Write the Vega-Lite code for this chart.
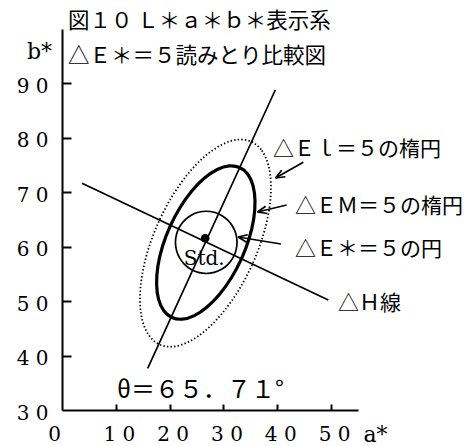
{
  "$schema": "https://vega.github.io/schema/vega-lite/v6.json",
  "width": 296,
  "height": 381,
  "autosize": {"type": "none"},
  "padding": {"left": 62, "top": 29, "right": 109, "bottom": 36},
  "background": "white",
  "config": {
    "view": {"stroke": null},
    "axis": {
      "grid": false,
      "domainColor": "black",
      "domainWidth": 2,
      "tickColor": "black",
      "tickWidth": 2,
      "labelColor": "black",
      "titleColor": "black",
      "labelFont": "DejaVu Serif",
      "labelFontSize": 20,
      "labelFlush": false,
      "labelOverlap": false,
      "titleFont": "DejaVu Serif",
      "titleFontSize": 22,
      "titleFontWeight": "normal"
    }
  },
  "title": {
    "text": ["図１０ Ｌ＊ａ＊ｂ＊表示系", "△Ｅ＊＝５読みとり比較図"],
    "anchor": "start",
    "frame": "group",
    "baseline": "top",
    "font": "Noto Sans CJK JP",
    "fontSize": 21.5,
    "fontWeight": "normal",
    "color": "black",
    "lineHeight": 35,
    "offset": 17,
    "dx": 6,
    "dy": 55
  },
  "datasets": {
    "curves": [
      {"curve": "EL", "k": 0, "a": 35.17, "b": 79.30},
      {"curve": "EL", "k": 1, "a": 37.13, "b": 77.66},
      {"curve": "EL", "k": 2, "a": 38.38, "b": 74.86},
      {"curve": "EL", "k": 3, "a": 38.83, "b": 71.09},
      {"curve": "EL", "k": 4, "a": 38.45, "b": 66.61},
      {"curve": "EL", "k": 5, "a": 37.27, "b": 61.73},
      {"curve": "EL", "k": 6, "a": 35.37, "b": 56.77},
      {"curve": "EL", "k": 7, "a": 32.87, "b": 52.08},
      {"curve": "EL", "k": 8, "a": 29.94, "b": 47.98},
      {"curve": "EL", "k": 9, "a": 26.80, "b": 44.73},
      {"curve": "EL", "k": 10, "a": 23.64, "b": 42.58},
      {"curve": "EL", "k": 11, "a": 20.69, "b": 41.65},
      {"curve": "EL", "k": 12, "a": 18.15, "b": 42.02},
      {"curve": "EL", "k": 13, "a": 16.19, "b": 43.67},
      {"curve": "EL", "k": 14, "a": 14.94, "b": 46.46},
      {"curve": "EL", "k": 15, "a": 14.49, "b": 50.23},
      {"curve": "EL", "k": 16, "a": 14.87, "b": 54.71},
      {"curve": "EL", "k": 17, "a": 16.05, "b": 59.59},
      {"curve": "EL", "k": 18, "a": 17.96, "b": 64.55},
      {"curve": "EL", "k": 19, "a": 20.45, "b": 69.24},
      {"curve": "EL", "k": 20, "a": 23.38, "b": 73.34},
      {"curve": "EL", "k": 21, "a": 26.52, "b": 76.59},
      {"curve": "EL", "k": 22, "a": 29.68, "b": 78.74},
      {"curve": "EL", "k": 23, "a": 32.63, "b": 79.67},
      {"curve": "EM", "k": 0, "a": 33.01, "b": 74.55},
      {"curve": "EM", "k": 1, "a": 34.52, "b": 73.31},
      {"curve": "EM", "k": 2, "a": 35.49, "b": 71.22},
      {"curve": "EM", "k": 3, "a": 35.86, "b": 68.42},
      {"curve": "EM", "k": 4, "a": 35.62, "b": 65.09},
      {"curve": "EM", "k": 5, "a": 34.76, "b": 61.47},
      {"curve": "EM", "k": 6, "a": 33.36, "b": 57.81},
      {"curve": "EM", "k": 7, "a": 31.50, "b": 54.34},
      {"curve": "EM", "k": 8, "a": 29.32, "b": 51.31},
      {"curve": "EM", "k": 9, "a": 26.96, "b": 48.93},
      {"curve": "EM", "k": 10, "a": 24.59, "b": 47.35},
      {"curve": "EM", "k": 11, "a": 22.36, "b": 46.69},
      {"curve": "EM", "k": 12, "a": 20.43, "b": 46.99},
      {"curve": "EM", "k": 13, "a": 18.92, "b": 48.23},
      {"curve": "EM", "k": 14, "a": 17.95, "b": 50.32},
      {"curve": "EM", "k": 15, "a": 17.58, "b": 53.12},
      {"curve": "EM", "k": 16, "a": 17.82, "b": 56.45},
      {"curve": "EM", "k": 17, "a": 18.68, "b": 60.07},
      {"curve": "EM", "k": 18, "a": 20.08, "b": 63.73},
      {"curve": "EM", "k": 19, "a": 21.94, "b": 67.20},
      {"curve": "EM", "k": 20, "a": 24.12, "b": 70.23},
      {"curve": "EM", "k": 21, "a": 26.48, "b": 72.61},
      {"curve": "EM", "k": 22, "a": 28.85, "b": 74.19},
      {"curve": "EM", "k": 23, "a": 31.08, "b": 74.85},
      {"curve": "Estar", "k": 0, "a": 32.52, "b": 60.80},
      {"curve": "Estar", "k": 1, "a": 32.33, "b": 62.28},
      {"curve": "Estar", "k": 2, "a": 31.75, "b": 63.66},
      {"curve": "Estar", "k": 3, "a": 30.85, "b": 64.85},
      {"curve": "Estar", "k": 4, "a": 29.66, "b": 65.75},
      {"curve": "Estar", "k": 5, "a": 28.28, "b": 66.33},
      {"curve": "Estar", "k": 6, "a": 26.80, "b": 66.52},
      {"curve": "Estar", "k": 7, "a": 25.32, "b": 66.33},
      {"curve": "Estar", "k": 8, "a": 23.94, "b": 65.75},
      {"curve": "Estar", "k": 9, "a": 22.76, "b": 64.85},
      {"curve": "Estar", "k": 10, "a": 21.85, "b": 63.66},
      {"curve": "Estar", "k": 11, "a": 21.28, "b": 62.28},
      {"curve": "Estar", "k": 12, "a": 21.08, "b": 60.80},
      {"curve": "Estar", "k": 13, "a": 21.28, "b": 59.32},
      {"curve": "Estar", "k": 14, "a": 21.85, "b": 57.94},
      {"curve": "Estar", "k": 15, "a": 22.76, "b": 56.76},
      {"curve": "Estar", "k": 16, "a": 23.94, "b": 55.85},
      {"curve": "Estar", "k": 17, "a": 25.32, "b": 55.28},
      {"curve": "Estar", "k": 18, "a": 26.80, "b": 55.08},
      {"curve": "Estar", "k": 19, "a": 28.28, "b": 55.28},
      {"curve": "Estar", "k": 20, "a": 29.66, "b": 55.85},
      {"curve": "Estar", "k": 21, "a": 30.85, "b": 56.76},
      {"curve": "Estar", "k": 22, "a": 31.75, "b": 57.94},
      {"curve": "Estar", "k": 23, "a": 32.33, "b": 59.32}
    ],
    "segments": [
      {"part": "theta axis", "a": 15.92, "b": 37.66, "a2": 39.63, "b2": 88.79},
      {"part": "dH line", "a": 3.72, "b": 71.65, "a2": 49.48, "b2": 50.21},
      {"part": "EL arrow", "a": 44.83, "b": 75.51, "a2": 39.67, "b2": 72.62},
      {"part": "EL arrow", "a": 39.67, "b": 72.62, "a2": 41.51, "b2": 72.86},
      {"part": "EL arrow", "a": 39.67, "b": 72.62, "a2": 40.82, "b2": 74.06},
      {"part": "EM arrow", "a": 41.75, "b": 67.66, "a2": 36.32, "b2": 66.38},
      {"part": "EM arrow", "a": 36.32, "b": 66.38, "a2": 38.16, "b2": 66.10},
      {"part": "EM arrow", "a": 36.32, "b": 66.38, "a2": 37.83, "b2": 67.44},
      {"part": "E* arrow", "a": 40.69, "b": 60.50, "a2": 32.70, "b2": 61.78},
      {"part": "E* arrow", "a": 32.70, "b": 61.78, "a2": 34.30, "b2": 60.83},
      {"part": "E* arrow", "a": 32.70, "b": 61.78, "a2": 34.52, "b2": 62.19}
    ],
    "notes": [
      {"a": 39.2, "b": 77.77, "text": "△Ｅｌ＝５の楕円"},
      {"a": 43.29, "b": 67.3, "text": "△ＥＭ＝５の楕円"},
      {"a": 43.29, "b": 59.4, "text": "△Ｅ＊＝５の円"},
      {"a": 51.28, "b": 49.47, "text": "△Ｈ線"}
    ],
    "angle_note": [
      {"a": 10.2, "b": 33.5, "text": "θ＝６５．７１°"}
    ],
    "std_point": [
      {"a": 26.6, "b": 61.55, "text": "Std."}
    ]
  },
  "layer": [
    {
      "encoding": {
        "x": {
          "field": "a",
          "type": "quantitative",
          "scale": {"domain": [0, 55], "nice": false, "zero": false},
          "axis": {
            "values": [0, 10, 20, 30, 40, 50],
            "labelExpr": "datum.value == 0 ? '0' : format(datum.value / 10, 'd') + ' 0'",
            "ticks": false,
            "labelPadding": 14,
            "labelOffset": {"condition": {"test": "datum.value == 0", "value": -8}, "value": 3},
            "title": "a*",
            "titleX": 313,
            "titleY": 24,
            "titleAlign": "center",
            "titleBaseline": "middle"
          }
        },
        "y": {
          "field": "b",
          "type": "quantitative",
          "scale": {"domain": [30, 100], "nice": false, "zero": false},
          "axis": {
            "values": [30, 40, 50, 60, 70, 80, 90],
            "labelExpr": "format(datum.value / 10, 'd') + ' 0'",
            "ticks": false,
            "labelPadding": 14,
            "labelOffset": 3,
            "title": "b*",
            "titleAngle": 0,
            "titleX": -23,
            "titleY": 22,
            "titleAlign": "center",
            "titleBaseline": "middle"
          }
        }
      },
      "layer": [
        {
          "data": {"name": "curves"},
          "transform": [{"filter": "datum.curve == 'EL'"}],
          "mark": {"type": "line", "interpolate": "cardinal-closed", "color": "black", "strokeWidth": 1.8, "strokeDash": [1.4, 2.2]},
          "encoding": {"order": {"field": "k", "type": "quantitative"}}
        },
        {
          "data": {"name": "curves"},
          "transform": [{"filter": "datum.curve == 'EM'"}],
          "mark": {"type": "line", "interpolate": "cardinal-closed", "color": "black", "strokeWidth": 3.2},
          "encoding": {"order": {"field": "k", "type": "quantitative"}}
        },
        {
          "data": {"name": "curves"},
          "transform": [{"filter": "datum.curve == 'Estar'"}],
          "mark": {"type": "line", "interpolate": "cardinal-closed", "color": "black", "strokeWidth": 1.7},
          "encoding": {"order": {"field": "k", "type": "quantitative"}}
        },
        {
          "data": {"name": "segments"},
          "mark": {"type": "rule", "color": "black", "strokeWidth": 1.7},
          "encoding": {
            "x2": {"field": "a2"},
            "y2": {"field": "b2"}
          }
        },
        {
          "data": {"name": "std_point"},
          "mark": {"type": "point", "filled": true, "color": "black", "size": 75, "opacity": 1}
        },
        {
          "data": {"name": "std_point"},
          "mark": {"type": "text", "font": "DejaVu Serif", "fontSize": 20, "align": "center", "baseline": "middle", "color": "black", "dx": -1, "dy": 21},
          "encoding": {"text": {"field": "text"}}
        },
        {
          "data": {"name": "angle_note"},
          "mark": {"type": "text", "font": "Noto Sans CJK JP", "fontSize": 24, "align": "left", "baseline": "middle", "color": "black"},
          "encoding": {"text": {"field": "text"}}
        },
        {
          "data": {"name": "notes"},
          "mark": {"type": "text", "font": "Noto Sans CJK JP", "fontSize": 21, "align": "left", "baseline": "middle", "color": "black"},
          "encoding": {"text": {"field": "text"}}
        }
      ]
    },
    {
      "data": {"values": [{"a": 0, "b": 30}]},
      "mark": {"type": "point", "opacity": 0},
      "encoding": {
        "x": {
          "field": "a",
          "type": "quantitative",
          "scale": {"domain": [0, 55], "nice": false, "zero": false},
          "axis": {
            "orient": "top",
            "offset": -381,
            "values": [10, 20, 30, 40, 50],
            "domain": false,
            "labels": false,
            "ticks": true,
            "tickSize": 6,
            "title": null
          }
        },
        "y": {
          "field": "b",
          "type": "quantitative",
          "scale": {"domain": [30, 100], "nice": false, "zero": false},
          "axis": {
            "orient": "right",
            "offset": -296,
            "values": [40, 50, 60, 70, 80, 90],
            "domain": false,
            "labels": false,
            "ticks": true,
            "tickSize": 9,
            "title": null
          }
        }
      }
    }
  ],
  "resolve": {"axis": {"x": "independent", "y": "independent"}}
}
